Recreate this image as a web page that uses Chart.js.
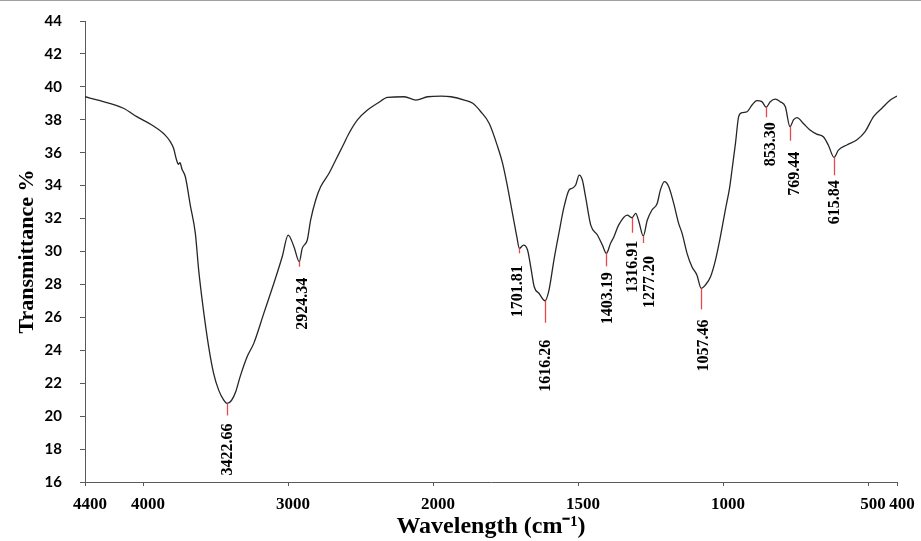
<!DOCTYPE html>
<html>
<head>
<meta charset="utf-8">
<script src="https://cdn.jsdelivr.net/npm/chart.js@4/dist/chart.umd.min.js"></script>
<style>
  html, body { margin: 0; padding: 0; background: #fff; }
  #wrap { position: relative; width: 921px; height: 541px; }
  #chart { display: block; }
  #edge { position: absolute; left: 0; top: 0; width: 921px; height: 1px; background: #a0a0a0; }
</style>
</head>
<body>
<div id="wrap">
  <canvas id="chart" width="921" height="541"></canvas>
  <div id="edge"></div>
</div>
<script>
// spectrum: wavenumber (cm-1) and transmittance (%)
const wavenumbers = [
  4400, 4296, 4135, 4043, 3939, 3847, 3812, 3789, 3770, 3755, 3745, 3731, 3708, 3674,
  3639, 3616, 3586, 3547, 3513, 3478, 3443, 3420, 3390, 3360, 3330, 3282, 3236, 3167,
  3098, 3040, 2999, 2959, 2922, 2902, 2867, 2844, 2809, 2775, 2717, 2671, 2625, 2579,
  2521, 2452, 2383, 2313, 2198, 2118, 2037, 1972, 1938, 1892, 1863, 1835, 1806, 1777,
  1760, 1743, 1726, 1711, 1702, 1688, 1674, 1663, 1651, 1634, 1614, 1600, 1583, 1566,
  1548, 1531, 1520, 1508, 1496, 1485, 1474, 1456, 1433, 1416, 1402, 1388, 1376, 1360,
  1330, 1314, 1301, 1290, 1275, 1261, 1245, 1227, 1216, 1202, 1187, 1170, 1153, 1141,
  1124, 1107, 1090, 1075, 1061, 1043, 1026, 1009, 992, 977, 969, 957, 946, 935,
  917, 900, 883, 866, 851, 837, 820, 803, 785, 769, 757, 745, 723, 700,
  677, 654, 637, 617, 602, 573, 539, 510, 481, 452, 423, 400
];
const transmittance = [
  39.40, 39.16, 38.70, 38.19, 37.68, 37.07, 36.67, 36.27, 35.60, 35.30, 35.40, 35.00, 34.54, 32.82,
  31.10, 28.87, 26.64, 24.21, 22.60, 21.58, 20.97, 20.77, 20.95, 21.50, 22.40, 23.61, 24.42, 26.24,
  28.06, 29.68, 31.00, 30.29, 29.38, 30.19, 30.70, 31.91, 33.13, 33.93, 34.75, 35.56, 36.36, 37.18,
  37.99, 38.59, 39.00, 39.36, 39.40, 39.20, 39.40, 39.44, 39.40, 39.20, 39.00, 38.49, 37.78, 36.36,
  35.35, 33.93, 32.32, 30.90, 30.19, 30.39, 30.09, 29.07, 27.86, 27.45, 27.01, 27.66, 29.48, 31.10,
  32.72, 33.73, 33.84, 34.04, 34.64, 34.34, 33.33, 31.60, 31.00, 30.39, 29.89, 30.49, 30.90, 31.60,
  32.21, 32.05, 32.32, 31.81, 30.94, 31.91, 32.52, 32.92, 33.73, 34.24, 33.93, 32.92, 31.71, 31.10,
  29.89, 29.07, 28.57, 27.76, 27.96, 28.47, 29.48, 30.90, 32.52, 33.90, 34.95, 36.57, 38.19, 38.43,
  38.49, 38.90, 39.16, 39.10, 38.76, 39.10, 39.26, 39.10, 38.79, 37.58, 37.99, 38.13, 37.78, 37.38,
  37.13, 36.97, 36.47, 35.72, 36.16, 36.47, 36.77, 37.28, 38.19, 38.70, 39.20, 39.44
];

const xTickValues = [4400, 4000, 3000, 2000, 1500, 1000, 500, 400];

// labelled bands, and where their markers sit on the curve
const peakLabels = ['3422.66', '2924.34', '1701.81', '1616.26', '1403.19', '1316.91',
  '1277.20', '1057.46', '853.30', '769.44', '615.84'];
const peakAt = [3420, 2922, 1702, 1614, 1402, 1314, 1275, 1075, 851, 769, 617];

// marker look (pixels)
const peakTickLen = [12, 5, 5, 22, 13, 15, 7, 21, 10, 14, 18];
const peakLabelGap = [8, 11, 12, 17, 6, 8, 13, 10, 5, 11, 5];
const peakLabelDx = [0, 3, -2, 0, 1, 0, 6, 2, 4, 4, 0];

// instrument axis: below 2000 cm-1 the scale is stretched twice
const toAxis = w => (w >= 2000 ? 4400 - w : 2400 + 2 * (2000 - w));
const fromAxis = t => (t <= 2400 ? 4400 - t : 2000 - (t - 2400) / 2);

function curveAt(w) {
  for (let i = 0; i < wavenumbers.length - 1; i++) {
    const a = wavenumbers[i], b = wavenumbers[i + 1];
    if (w <= a && w >= b) {
      const f = (a - w) / (a - b);
      return transmittance[i] + f * (transmittance[i + 1] - transmittance[i]);
    }
  }
  return transmittance[transmittance.length - 1];
}

const peakMarks = {
  id: 'peakMarks',
  afterDatasetsDraw(chart) {
    const { ctx, scales: { x, y } } = chart;
    ctx.save();
    peakAt.forEach((w, i) => {
      const px = Math.round(x.getPixelForValue(toAxis(w))) + 0.5;
      const py = y.getPixelForValue(curveAt(w));
      const end = py + peakTickLen[i];
      ctx.strokeStyle = '#e8474c';
      ctx.lineWidth = 1.3;
      ctx.beginPath();
      ctx.moveTo(px, py);
      ctx.lineTo(px, end);
      ctx.stroke();

      ctx.save();
      ctx.translate(px + peakLabelDx[i], end + peakLabelGap[i]);
      ctx.rotate(-Math.PI / 2);
      ctx.fillStyle = '#000';
      ctx.font = 'bold 16px "Liberation Serif", "Times New Roman", serif';
      ctx.textAlign = 'right';
      ctx.textBaseline = 'middle';
      ctx.fillText(peakLabels[i], 0, 0);
      ctx.restore();
    });
    ctx.restore();
  }
};

const axisColor = '#5a5a5a';

new Chart(document.getElementById('chart'), {
  type: 'line',
  data: {
    datasets: [{
      data: wavenumbers.map((w, i) => ({ x: toAxis(w), y: transmittance[i] })),
      borderColor: '#262626',
      borderWidth: 1.3,
      pointRadius: 0,
      cubicInterpolationMode: 'monotone',
      fill: false,
    }],
  },
  options: {
    responsive: false,
    animation: false,
    layout: { padding: { top: 21, right: 24, bottom: 0, left: 0 } },
    plugins: { legend: { display: false }, tooltip: { enabled: false } },
    scales: {
      x: {
        type: 'linear',
        min: 0,
        max: toAxis(400),
        afterBuildTicks: s => { s.ticks = xTickValues.map(v => ({ value: toAxis(v) })); },
        afterFit: s => { s.height = 59; },
        ticks: {
          autoSkip: false,
          maxRotation: 0,
          color: '#000',
          padding: 8,
          labelOffset: 5,
          font: { family: '"Liberation Serif", serif', size: 17, weight: 'bold' },
          callback: v => String(Math.round(fromAxis(v))),
        },
        grid: { drawOnChartArea: false, tickLength: 4, color: axisColor },
        border: { color: axisColor, width: 1 },
        title: {
          display: true,
          text: 'Wavelength (cm⁻¹)',
          color: '#000',
          font: { family: '"Liberation Serif", serif', size: 24, weight: 'bold' },
          padding: { top: 0, bottom: 0 },
        },
      },
      y: {
        min: 16,
        max: 44,
        // fixed axis box; the label padding should not push the plot down
        afterFit: s => { s.width = 85; s.paddingTop = 0; s.paddingBottom = 0; },
        ticks: {
          stepSize: 2,
          color: '#000',
          padding: 18,
          font: { family: 'Lato', size: 15, weight: 'bold' },
        },
        grid: { drawOnChartArea: false, tickLength: 5, color: axisColor },
        border: { color: axisColor, width: 1 },
        title: {
          display: true,
          text: 'Transmittance %',
          color: '#000',
          font: { family: '"Liberation Serif", serif', size: 22, weight: 'bold' },
          padding: { top: 14, bottom: 0 },
        },
      },
    },
  },
  plugins: [peakMarks],
});
</script>
</body>
</html>
